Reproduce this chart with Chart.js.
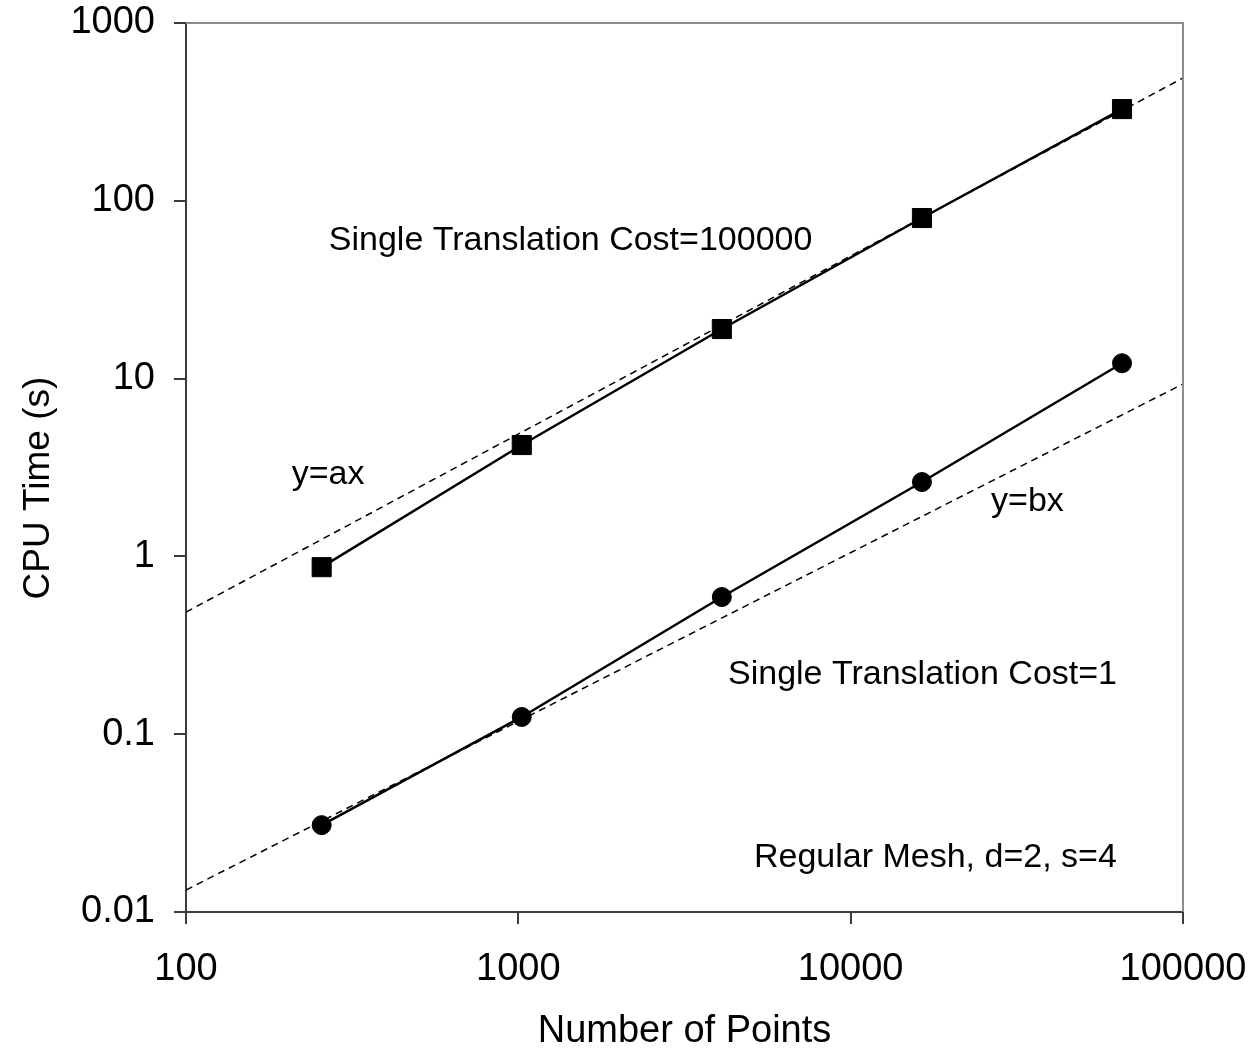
<!DOCTYPE html>
<html>
<head>
<meta charset="utf-8">
<script src="https://cdn.jsdelivr.net/npm/chart.js@4.4.1/dist/chart.umd.min.js"></script>
<style>
  html, body { margin: 0; padding: 0; background: #fff; }
  #wrap { width: 1253px; height: 1052px; position: relative; }
</style>
</head>
<body>
<div id="wrap"><canvas id="cpuChart"></canvas></div>
<script>
// --- data ---
const nPoints = [256, 1024, 4096, 16384, 65536];
const timeCost100000 = [0.87, 4.23, 19.0, 80.0, 328];
const timeCost1 = [0.0308, 0.125, 0.591, 2.62, 12.2];

// reference lines y=ax and y=bx (end points at the plot edges)
const refX = [100, 100000];
const refA = [0.486, 491];
const refB = [0.0133, 9.33];

// decade ticks
const xTicks = [100, 1000, 10000, 100000];
const yTicks = [0.01, 0.1, 1, 10, 100, 1000];

// text notes, anchored at data coords (left edge, vertical middle)
const noteText = ['Single Translation Cost=100000', 'y=ax', 'y=bx', 'Single Translation Cost=1', 'Regular Mesh, d=2, s=4'];
const noteX = [269, 208, 26460, 4275, 5116];
const noteY = [59.4, 2.9, 2.02, 0.215, 0.0201];

const FONT = "Arial, 'Liberation Sans', Helvetica, sans-serif";

function pairs(xs, ys) {
    return xs.map((x, i) => ({ x: x, y: ys[i] }));
}

// notes + the light top/right frame
const notesPlugin = {
    id: 'notes',
    afterDatasetsDraw(chart) {
        const { ctx, chartArea, scales } = chart;
        ctx.save();
        ctx.strokeStyle = '#8c8c8c';
        ctx.lineWidth = 2;
        ctx.beginPath();
        ctx.moveTo(chartArea.left, chartArea.top);
        ctx.lineTo(chartArea.right, chartArea.top);
        ctx.lineTo(chartArea.right, chartArea.bottom);
        ctx.stroke();

        ctx.fillStyle = '#000';
        ctx.font = '34px ' + FONT;
        ctx.textAlign = 'left';
        ctx.textBaseline = 'middle';
        noteText.forEach((t, i) => {
            ctx.fillText(t, scales.x.getPixelForValue(noteX[i]), scales.y.getPixelForValue(noteY[i]));
        });
        ctx.restore();
    }
};

Chart.defaults.font.family = FONT;
Chart.defaults.color = '#000';

const ctx = document.getElementById('cpuChart').getContext('2d');
new Chart(ctx, {
    type: 'line',
    data: {
        datasets: [
            {
                label: 'y=ax',
                data: pairs(refX, refA),
                borderColor: '#000',
                borderWidth: 1.5,
                borderDash: [7, 5],
                pointRadius: 0,
                order: 3
            },
            {
                label: 'y=bx',
                data: pairs(refX, refB),
                borderColor: '#000',
                borderWidth: 1.5,
                borderDash: [7, 5],
                pointRadius: 0,
                order: 3
            },
            {
                label: 'Cost=100000',
                data: pairs(nPoints, timeCost100000),
                borderColor: '#000',
                borderWidth: 2.5,
                pointStyle: 'rect',
                pointRadius: 13.5,
                pointBackgroundColor: '#000',
                pointBorderColor: '#000',
                pointBorderWidth: 1,
                order: 1
            },
            {
                label: 'Cost=1',
                data: pairs(nPoints, timeCost1),
                borderColor: '#000',
                borderWidth: 2.5,
                pointStyle: 'circle',
                pointRadius: 9.5,
                pointBackgroundColor: '#000',
                pointBorderColor: '#000',
                pointBorderWidth: 1,
                order: 1
            }
        ]
    },
    options: {
        responsive: true,
        maintainAspectRatio: false,
        animation: false,
        layout: { padding: { top: 23, right: 70, left: 0, bottom: 0 } },
        plugins: {
            legend: { display: false },
            tooltip: { enabled: false }
        },
        scales: {
            x: {
                type: 'logarithmic',
                min: 100,
                max: 100000,
                afterBuildTicks: s => { s.ticks = xTicks.map(v => ({ value: v })); },
                afterFit: s => { s.height = 140; s.paddingLeft = 0; s.paddingRight = 0; },
                grid: { drawOnChartArea: false, drawTicks: true, tickLength: 12, color: '#3c3c3c', lineWidth: 2 },
                border: { color: '#3c3c3c', width: 2 },
                ticks: {
                    font: { size: 38 },
                    padding: 23,
                    maxRotation: 0,
                    autoSkip: false,
                    callback: v => String(v)
                },
                title: {
                    display: true,
                    text: 'Number of Points',
                    font: { size: 38, lineHeight: 1 },
                    padding: { top: 0, bottom: 1 }
                }
            },
            y: {
                type: 'logarithmic',
                min: 0.01,
                max: 1000,
                afterBuildTicks: s => { s.ticks = yTicks.map(v => ({ value: v })); },
                afterFit: s => { s.width = 186; s.paddingTop = 0; s.paddingBottom = 0; },
                grid: { drawOnChartArea: false, drawTicks: true, tickLength: 12, color: '#3c3c3c', lineWidth: 2 },
                border: { color: '#3c3c3c', width: 2 },
                ticks: {
                    font: { size: 38 },
                    padding: 19,
                    autoSkip: false,
                    callback: v => String(v)
                },
                title: {
                    display: true,
                    // trailing spaces nudge the rotated title down, as in the original
                    text: 'CPU Time (s)    ',
                    font: { size: 37, lineHeight: 1 },
                    padding: { top: 20, bottom: 0 }
                }
            }
        }
    },
    plugins: [notesPlugin]
});
</script>
</body>
</html>
